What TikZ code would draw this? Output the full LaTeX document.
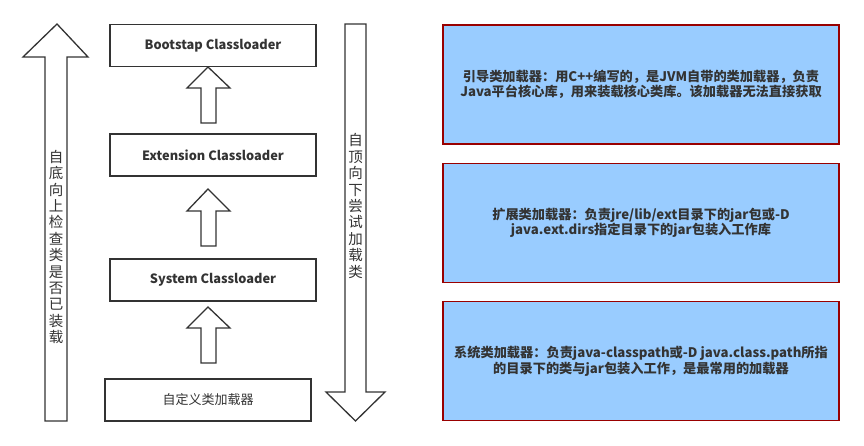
\documentclass[tikz,border=0pt]{standalone}
\usepackage{fontspec}
\setmainfont{Noto Sans CJK SC}
\usetikzlibrary{positioning,calc}

\definecolor{infofill}{HTML}{99CCFF}
\definecolor{infoedge}{HTML}{990000}
\definecolor{txtgray}{HTML}{333333}

\begin{document}
\begin{tikzpicture}[x=1pt,y=-1pt,
    loaderbox/.style={draw=black!80, line width=1.3pt, minimum width=206pt, minimum height=42pt, inner sep=0pt, font=\fontsize{12.8}{15}\selectfont\bfseries, text=txtgray},
    infobox/.style={draw=infoedge, fill=infofill, line width=1.6pt, minimum width=396pt, minimum height=119pt, inner sep=0pt, align=center, font=\fontsize{13.2}{15.5}\selectfont\bfseries, text=txtgray},
    vtext/.style={align=center, font=\fontsize{14.5}{16.4}\selectfont, text=txtgray},
    hollow/.style={draw=black!80, line width=1.3pt, fill=white, line join=miter}]

    \useasboundingbox (0,0) rectangle (864,446);

    % left column of loaders
    \node[loaderbox] (boot) at (213,45.5) {Bootstap Classloader};
    \node[loaderbox] (ext) at (213,155) {Extension Classloader};
    \node[loaderbox] (sys) at (213,280) {System Classloader};
    \node[loaderbox, font=\fontsize{13}{15}\selectfont] (own) at (208,400) {自定义类加载器};

    % small up arrows between loaders
    \foreach \tip/\base/\bot in {67/88/123, 189/211/246, 307/328/363}{
        \draw[hollow] (208,\tip) -- (230,\base) -- (216,\base) -- (216,\bot)
            -- (201,\bot) -- (201,\base) -- (187,\base) -- cycle;
    }

    % big arrow: bottom up
    \draw[hollow] (57,24) -- (88,57) -- (67,57) -- (67,421) -- (45,421)
        -- (45,57) -- (23,57) -- cycle;
    \node[vtext] (up) at (56,247) {自\\底\\向\\上\\检\\查\\类\\是\\否\\已\\装\\载};

    % big arrow: top down
    \draw[hollow] (345,24) -- (366,24) -- (366,392) -- (385,392) -- (355.5,421)
        -- (326,392) -- (345,392) -- cycle;
    \node[vtext] (down) at (355.5,206) {自\\顶\\向\\下\\尝\\试\\加\\载\\类};

    % descriptions
    \node[infobox] (bootinfo) at (641,84.5) {引导类加载器：用C++编写的，是JVM自带的类加载器，负责\\Java平台核心库，用来装载核心类库。该加载器无法直接获取};
    \node[infobox] (extinfo) at (641,223) {扩展类加载器：负责jre/lib/ext目录下的jar包或-D\\java.ext.dirs指定目录下的jar包装入工作库};
    \node[infobox] (sysinfo) at (641,361) {系统类加载器：负责java-classpath或-D java.class.path所指\\的目录下的类与jar包装入工作，是最常用的加载器};
\end{tikzpicture}
\end{document}
